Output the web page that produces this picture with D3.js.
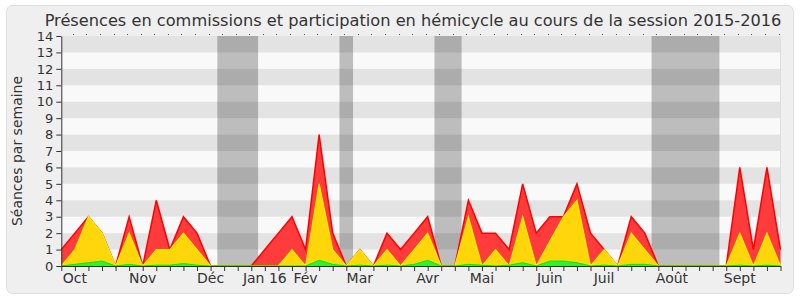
<!DOCTYPE html>
<html>
<head>
<meta charset="utf-8">
<script src="https://cdn.jsdelivr.net/npm/d3@7"></script>
<style>
  html, body { margin: 0; padding: 0; background: #ffffff; }
  svg { display: block; font-family: "DejaVu Sans", sans-serif; }
</style>
</head>
<body>
<svg id="chart" width="800" height="300"></svg>
<script>
// ---- data (one value per week, 54 weeks) ----
const title = "Présences en commissions et participation en hémicycle au cours de la session 2015-2016";
const yLabel = "Séances par semaine";
const commissions = [1,2,3,2,0,3,0,4,1,3,2,0, 0,0,0, 1,2,3,1,8,2,0,1,0,2, 1,2,3,0,0, 4,2,2,1,5,2,3,3,5,2,1,0,3,2,0, 0,0,0,0,0, 6,1,6,1];
const hemicycle   = [0,1,3,2,0,2,0,1,1,2,1,0, 0,0,0, 0,0,1,0,5,1,0,1,0,1, 0,1,2,0,0, 3,0,1,0,3,0,1.5,3,4,0,1,0,2,1,0, 0,0,0,0,0, 2,0,2,0];
const interventions = [0,0.1,0.2,0.3,0,0.1,0,0.05,0.05,0.15,0.05,0, 0,0,0, 0,0,0,0,0.35,0.1,0,0.05,0,0.05, 0,0.1,0.35,0,0, 0.1,0.05,0,0.05,0.2,0,0.3,0.3,0.2,0,0.05,0,0.1,0.1,0, 0,0,0,0,0, 0.05,0,0.05,0];
const monthLabels = ["Oct","Nov","Déc","Jan 16","Fév","Mar","Avr","Mai","Juin","Juil","Août","Sept"];
const monthWeeks  = [1,6,11,15,18,22,27,31,36,40,45,50];
const vacationStart = [11.5, 20.5, 27.5, 43.5];
const vacationEnd   = [14.5, 21.5, 29.5, 48.5];
const yTicks = [0,1,2,3,4,5,6,7,8,9,10,11,12,13,14];

// ---- layout ----
const svg = d3.select("#chart");
const L = 61.3, R = 780.5, T = 36, B = 266;
const nWeeks = commissions.length;
const x = d3.scaleLinear().domain([0, nWeeks - 1]).range([L, R]);
const y = d3.scaleLinear().domain([0, 14]).range([B, T]);

// frame
svg.append("rect").attr("x", 6.5).attr("y", 5.5).attr("width", 787).attr("height", 288)
  .attr("rx", 6).attr("fill", "#efefef").attr("stroke", "#dedede");

// plot background
svg.append("rect").attr("x", L).attr("y", T).attr("width", R - L).attr("height", B - T)
  .attr("fill", "#f9f9f9");

// vacation bands
svg.append("g").selectAll("rect").data(vacationStart).join("rect")
  .attr("x", (d) => x(d)).attr("y", T)
  .attr("width", (d, i) => x(vacationEnd[i]) - x(d)).attr("height", B - T)
  .attr("fill", "#bdbdbd");

// horizontal stripes
const stripes = yTicks.filter(v => v % 2 === 1);
svg.append("g").selectAll("rect").data(stripes).join("rect")
  .attr("x", L).attr("width", R - L)
  .attr("y", d => y(d + 1)).attr("height", d => y(d) - y(d + 1))
  .attr("fill", "rgba(0,0,0,0.085)");

// right edge line
svg.append("line").attr("x1", R).attr("x2", R).attr("y1", T).attr("y2", B)
  .attr("stroke", "#dddddd");

// areas
const idx = d3.range(nWeeks);
function area(vals) {
  return d3.area().x(i => x(i)).y0(y(0)).y1(i => y(vals[i]))(idx);
}
function line(vals) {
  return d3.line().x(i => x(i)).y(i => y(vals[i]))(idx);
}
svg.append("path").attr("d", area(commissions)).attr("fill", "#ff3b3b");
svg.append("path").attr("d", line(commissions)).attr("fill", "none").attr("stroke", "#ff0000").attr("stroke-width", 1.5);
svg.append("path").attr("d", area(hemicycle)).attr("fill", "#ffd60a");
svg.append("path").attr("d", line(hemicycle)).attr("fill", "none").attr("stroke", "#ffee00").attr("stroke-width", 1.2);
svg.append("path").attr("d", area(interventions)).attr("fill", "#33ee33");
svg.append("path").attr("d", line(interventions)).attr("fill", "none").attr("stroke", "#00ee00").attr("stroke-width", 1);

// y axis
const yAxis = svg.append("g").attr("transform", `translate(${L},0)`)
  .call(d3.axisLeft(y).tickValues(yTicks).tickSize(5).tickSizeOuter(0).tickPadding(3));
yAxis.selectAll("text").attr("font-size", 13).attr("fill", "#333").attr("font-family", "DejaVu Sans");
yAxis.selectAll("line, path").attr("stroke", "#333");

// x axis
const xAxis = svg.append("g").attr("transform", `translate(0,${B})`)
  .call(d3.axisBottom(x).tickValues(idx).tickSize(5).tickSizeOuter(0).tickFormat(""));
xAxis.selectAll("line").attr("stroke", "#333");
xAxis.select("path").attr("stroke", "#223322");

// top dotted ticks
svg.append("g").selectAll("rect").data(idx.slice(1)).join("rect")
  .attr("x", i => Math.round(x(i)) - 2).attr("y", T - 2).attr("width", 1).attr("height", 1)
  .attr("fill", "#555");

// month labels
svg.append("g").selectAll("text").data(monthLabels).join("text")
  .attr("x", (d, i) => x(monthWeeks[i])).attr("y", 283)
  .attr("text-anchor", "middle").attr("font-size", 14).attr("fill", "#333")
  .text(d => d);

// title
svg.append("text").attr("x", 413).attr("y", 26).attr("text-anchor", "middle")
  .attr("font-size", 16.2).attr("fill", "#333").text(title);

// y label
svg.append("text").attr("transform", "translate(22,151) rotate(-90)")
  .attr("text-anchor", "middle").attr("font-size", 14).attr("fill", "#333").text(yLabel);
</script>
</body>
</html>
